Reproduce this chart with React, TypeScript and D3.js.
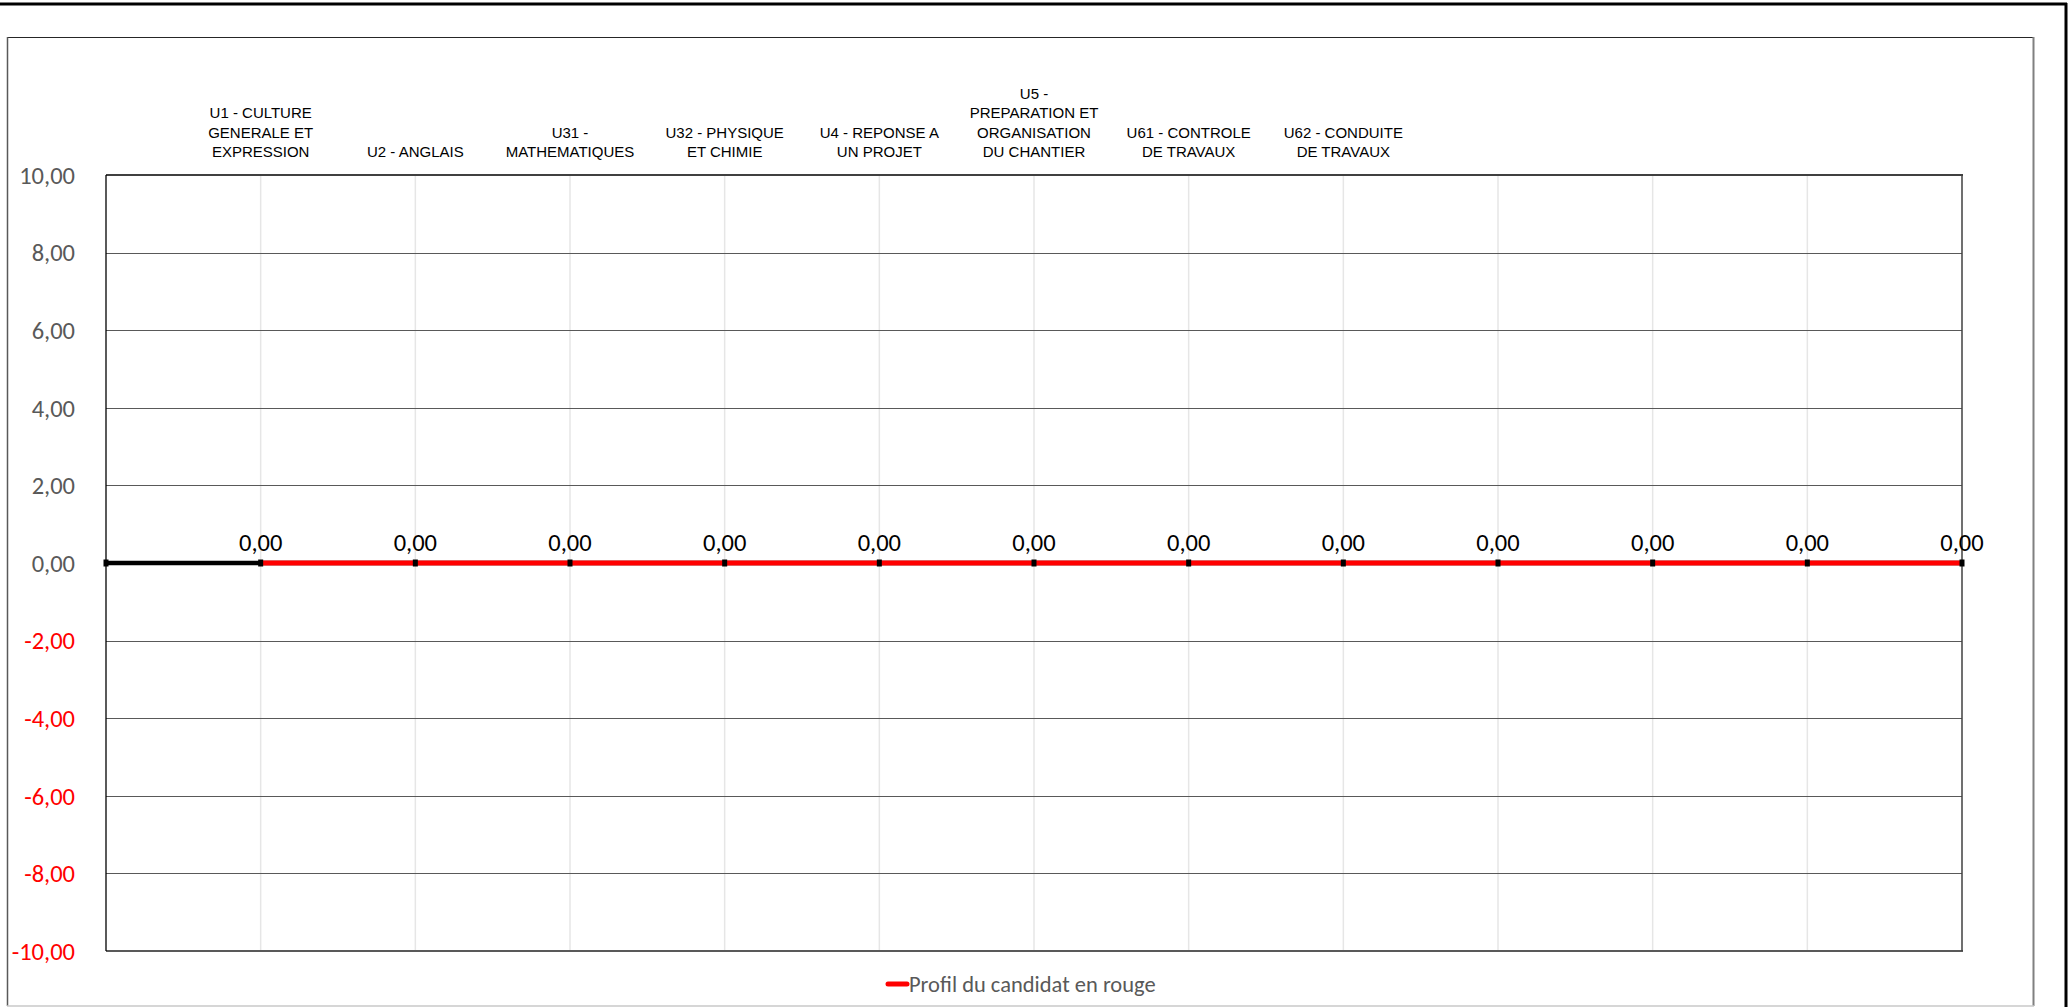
import * as d3 from 'd3';

// categories (multi-line labels shown above the plot)
const categories: string[][] = [
  [],
  ['U1 - CULTURE', 'GENERALE ET', 'EXPRESSION'],
  ['U2 - ANGLAIS'],
  ['U31 -', 'MATHEMATIQUES'],
  ['U32 - PHYSIQUE', 'ET CHIMIE'],
  ['U4 - REPONSE A', 'UN PROJET'],
  ['U5 -', 'PREPARATION ET', 'ORGANISATION', 'DU CHANTIER'],
  ['U61 - CONTROLE', 'DE TRAVAUX'],
  ['U62 - CONDUITE', 'DE TRAVAUX'],
  [],
  [],
  [],
  [],
];

// black reference series (visible only before first unit) and red candidate profile
const referenceValues: number[] = [0, 0, 0, 0, 0, 0, 0, 0, 0, 0, 0, 0, 0];
const candidateValues: (number | null)[] = [null, 0, 0, 0, 0, 0, 0, 0, 0, 0, 0, 0, 0];

const yTicks: number[] = [-10, -8, -6, -4, -2, 0, 2, 4, 6, 8, 10];
const legendLabel = 'Profil du candidat en rouge';

const W = 2069;
const H = 1007;
const plot = { left: 106, top: 175, right: 1962, bottom: 951 };

const fmt = (v: number) => v.toFixed(2).replace('.', ',');

export default function App() {
  const x = d3
    .scalePoint<number>()
    .domain(categories.map((_, i) => i))
    .range([plot.left, plot.right]);
  const y = d3.scaleLinear().domain([-10, 10]).range([plot.bottom, plot.top]);

  const line = d3
    .line<number | null>()
    .defined((d) => d !== null)
    .x((_, i) => x(i) as number)
    .y((d) => y(d as number));

  const lineHeight = 19.5;

  return (
    <svg
      width={W}
      height={H}
      style={{ position: 'absolute', left: 0, top: 0, display: 'block', background: '#fff' }}
    >
      {/* outer frame */}
      <line x1={0} x2={2067} y1={4} y2={4} stroke="#000" strokeWidth={3} />
      <line x1={2066} x2={2066} y1={3} y2={H} stroke="#000" strokeWidth={3} />

      {/* chart area */}
      <line x1={7} x2={2034} y1={37.5} y2={37.5} stroke="#262626" strokeWidth={1} />
      <line x1={7.5} x2={7.5} y1={37} y2={1006} stroke="#595959" strokeWidth={1.5} />
      <line x1={2033.5} x2={2033.5} y1={37} y2={1006} stroke="#808080" strokeWidth={2} />
      <line x1={7} x2={2034} y1={1006} y2={1006} stroke="#c8c8c8" strokeWidth={1.5} />

      {/* vertical gridlines */}
      {categories.map((_, i) =>
        i > 0 && i < categories.length - 1 ? (
          <line
            key={`vg${i}`}
            x1={x(i)}
            x2={x(i)}
            y1={plot.top}
            y2={plot.bottom}
            stroke="#e6e6e6"
            strokeWidth={1.5}
          />
        ) : null,
      )}

      {/* horizontal gridlines */}
      {yTicks.map((t) =>
        t !== 10 && t !== -10 ? (
          <line
            key={`hg${t}`}
            x1={plot.left}
            x2={plot.right}
            y1={Math.round(y(t)) + 0.5}
            y2={Math.round(y(t)) + 0.5}
            stroke="#595959"
            strokeWidth={1}
          />
        ) : null,
      )}

      {/* plot border */}
      <line x1={plot.left} x2={plot.right + 1} y1={plot.top} y2={plot.top} stroke="#404040" strokeWidth={2} />
      <line x1={plot.left} x2={plot.right + 1} y1={plot.bottom} y2={plot.bottom} stroke="#595959" strokeWidth={2} />
      <line x1={plot.right} x2={plot.right} y1={plot.top} y2={plot.bottom} stroke="#404040" strokeWidth={1.5} />
      <line x1={plot.left} x2={plot.left} y1={plot.top} y2={plot.bottom} stroke="#000" strokeWidth={1.3} />

      {/* y tick labels */}
      {yTicks.map((t) => (
        <text
          key={`yt${t}`}
          x={75}
          y={y(t)}
          dy="0.36em"
          textAnchor="end"
          fontFamily="Carlito, Lato, sans-serif"
          fontSize={24.5}
          fill={t < 0 ? '#ff0000' : '#595959'}
        >
          {fmt(t)}
        </text>
      ))}

      {/* category labels, bottom aligned above plot */}
      {categories.map((lines, i) => (
        <text
          key={`cat${i}`}
          textAnchor="middle"
          fontFamily="'Liberation Sans', Arial, sans-serif"
          fontSize={15}
          fill="#000"
        >
          {lines.map((l, j) => (
            <tspan key={j} x={x(i)} y={157 - (lines.length - 1 - j) * lineHeight}>
              {l}
            </tspan>
          ))}
        </text>
      ))}

      {/* series */}
      <path d={line(referenceValues) ?? ''} fill="none" stroke="#000" strokeWidth={4.5} />
      <path d={line(candidateValues) ?? ''} fill="none" stroke="#ff0000" strokeWidth={5} />

      {/* markers */}
      {referenceValues.map((v, i) => (
        <rect key={`m${i}`} x={(x(i) as number) - 2.5} y={y(v) - 3.5} width={5} height={7} fill="#000" />
      ))}

      {/* data labels */}
      {candidateValues.map((v, i) =>
        v === null ? null : (
          <text
            key={`dl${i}`}
            x={x(i)}
            y={y(v) - 21}
            dy="0.36em"
            textAnchor="middle"
            fontFamily="Carlito, Lato, sans-serif"
            fontSize={24.5}
            fill="#000"
          >
            {fmt(v)}
          </text>
        ),
      )}

      {/* legend */}
      <line x1={888} x2={907} y1={984} y2={984} stroke="#ff0000" strokeWidth={5} strokeLinecap="round" />
      <text x={909} y={984} dy="0.36em" fontFamily="Carlito, Lato, sans-serif" fontSize={22.5} fill="#595959">
        {legendLabel}
      </text>
    </svg>
  );
}
